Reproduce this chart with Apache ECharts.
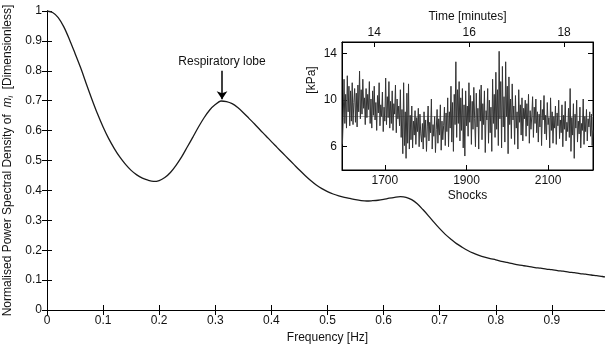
<!DOCTYPE html>
<html><head><meta charset="utf-8">
<script src="https://cdn.jsdelivr.net/npm/echarts@6/dist/echarts.min.js"></script>
<style>html,body{margin:0;padding:0;background:#fff}#c{width:605px;height:344px}</style>
</head><body><div id="c"></div>
<script>
// Main PSD curve (frequency in Hz, normalised PSD), sampled every 0.01 Hz
const freq = [0,0.01,0.02,0.03,0.04,0.05,0.06,0.07,0.08,0.09,0.10,0.11,0.12,0.13,0.14,0.15,0.16,0.17,0.18,0.19,0.20,0.21,0.22,0.23,0.24,0.25,0.26,0.27,0.28,0.29,0.30,0.31,0.32,0.33,0.34,0.35,0.36,0.37,0.38,0.39,0.40,0.41,0.42,0.43,0.44,0.45,0.46,0.47,0.48,0.49,0.50,0.51,0.52,0.53,0.54,0.55,0.56,0.57,0.58,0.59,0.60,0.61,0.62,0.63,0.64,0.65,0.66,0.67,0.68,0.69,0.70,0.71,0.72,0.73,0.74,0.75,0.76,0.77,0.78,0.79,0.80,0.81,0.82,0.83,0.84,0.85,0.86,0.87,0.88,0.89,0.90,0.91,0.92,0.93,0.94,0.95,0.96,0.97,0.98,0.99,1.0];
const psd  = [1.0,0.995,0.978,0.947,0.905,0.858,0.81,0.757,0.705,0.656,0.612,0.573,0.54,0.511,0.487,0.467,0.452,0.441,0.434,0.430,0.433,0.443,0.46,0.484,0.512,0.545,0.578,0.612,0.643,0.669,0.687,0.699,0.697,0.69,0.677,0.66,0.641,0.622,0.602,0.583,0.563,0.544,0.525,0.506,0.487,0.468,0.45,0.433,0.418,0.406,0.396,0.388,0.382,0.377,0.373,0.369,0.366,0.3645,0.3655,0.367,0.37,0.374,0.377,0.379,0.377,0.369,0.355,0.336,0.315,0.293,0.272,0.253,0.237,0.222,0.21,0.199,0.19,0.183,0.177,0.172,0.168,0.163,0.159,0.155,0.151,0.148,0.145,0.142,0.14,0.137,0.135,0.132,0.13,0.127,0.125,0.122,0.12,0.117,0.115,0.112,0.11];
const peakFreq = 0.312, peakVal = 0.705, arrowTop = 0.80;
const annotation = 'Respiratory lobe';

// Inset: pressure per shock
const shockStart = 1596, shockStep = 2;
const pressure = [
6.2,8.5,11.8,8.0,10.5,7.6,12.1,9.0,11.2,7.8,
10.8,8.2,11.5,7.9,9.8,11.0,8.1,10.6,7.7,11.3,
9.0,12.5,8.4,10.9,8.8,11.8,9.3,10.2,7.9,11.0,
8.5,10.5,9.2,11.6,8.0,10.1,7.6,10.8,8.7,11.2,
8.3,9.8,7.4,10.4,8.9,11.5,7.8,9.6,8.6,10.7,
7.3,9.4,8.2,11.9,7.9,10.3,8.5,11.6,7.6,9.9,
8.0,10.8,7.4,9.7,8.8,11.3,7.2,10.1,8.4,9.5,
7.8,10.9,6.8,9.2,5.4,11.5,6.1,9.0,5.0,10.6,
6.3,11.4,5.8,8.7,6.6,9.5,5.9,8.2,7.0,9.1,
6.2,8.5,7.3,9.3,6.0,8.8,7.1,6.4,8.0,5.8,
9.0,6.8,8.3,5.6,7.7,9.5,6.5,8.1,7.2,10.1,
5.8,7.9,6.9,8.6,5.5,7.5,9.2,6.3,8.4,7.0,
9.6,5.7,8.2,6.6,7.8,9.4,6.1,8.9,7.3,10.2,
6.0,9.0,7.6,11.2,6.4,9.8,5.6,10.5,7.9,13.3,
6.8,10.9,8.0,11.6,6.5,10.2,7.4,11.0,5.9,9.6,
5.2,10.8,7.8,9.5,6.9,11.5,8.1,10.4,6.2,9.9,
7.5,11.1,8.4,6.0,10.6,7.7,9.3,5.8,10.9,8.2,
11.3,6.6,9.7,7.9,10.8,5.5,9.1,8.3,11.0,6.3,
10.0,7.2,9.4,5.6,11.8,8.0,10.5,6.8,12.4,7.5,
10.9,6.1,14.2,8.4,11.6,5.9,12.9,7.7,10.3,6.4,
13.3,8.6,11.2,5.4,12.0,7.9,10.1,6.7,11.4,8.3,
9.5,6.2,10.4,7.6,9.0,5.8,10.9,8.1,9.6,7.0,
10.2,6.5,9.3,8.4,10.0,6.9,9.7,7.8,10.5,6.3,
9.1,7.5,8.6,10.3,6.8,9.4,8.0,10.1,7.2,9.0,
6.4,8.8,7.7,10.0,6.1,9.2,8.3,10.4,7.1,8.7,
6.6,9.8,7.9,8.5,5.9,10.2,7.4,9.0,6.3,8.6,
7.6,9.5,6.2,8.9,7.8,10.0,6.7,8.3,7.2,9.6,
6.0,8.7,7.5,9.9,6.5,8.1,7.3,9.3,6.8,11.0,
5.6,8.5,7.0,9.7,5.0,8.8,7.6,10.0,6.4,8.2,
7.1,9.4,5.9,8.0,7.4,10.1,6.2,8.6,7.3,9.2,
6.5,8.4,7.7,9.0,6.9,8.8,6.1,7.4];
const meanPressure = 8.65;
const insetShockRange = [1595, 2210];
const insetTimeRange = [13.32, 18.61];
const insetYRange = [4, 15];
const shockTicks = [1700, 1900, 2100];
const timeTicks = [14, 16, 18];
const kpaTicks = [6, 10, 14];

const FONT = 'Liberation Sans, Arial, sans-serif';
const chart = echarts.init(document.getElementById('c'), null, {renderer: 'canvas'});
const mainData = freq.map((f, i) => [f, psd[i]]);
const insetData = pressure.map((p, i) => [shockStart + i * shockStep, p]);

const tickIn = {show: true, inside: true, length: 5, lineStyle: {color: '#000'}};
const lineBlk = {show: true, lineStyle: {color: '#000', width: 1}};
const lbl = {color: '#111', fontSize: 12, fontFamily: FONT};
const plain = v => String(v);

chart.setOption({
  animation: false,
  backgroundColor: '#fff',
  grid: [
    {left: 47, top: 11, width: 561, height: 299, show: false, containLabel: false, outerBoundsMode: 'none'},
    {left: 342, top: 42, width: 251, height: 128, show: true, backgroundColor: '#fff', borderColor: '#000', borderWidth: 1, z: 5, containLabel: false, outerBoundsMode: 'none'}
  ],
  xAxis: [
    {gridIndex: 0, type: 'value', min: 0, max: 1, interval: 0.1, axisLine: lineBlk, axisTick: tickIn,
     axisLabel: Object.assign({margin: 5, formatter: plain, showMaxLabel: true}, lbl), splitLine: {show: false},
     name: 'Frequency [Hz]', nameLocation: 'middle', nameGap: 18, nameTextStyle: {color: '#111', fontSize: 12, fontFamily: FONT}},
    {gridIndex: 0, type: 'value', position: 'top', min: 0, max: 1, interval: 0.1, axisLine: lineBlk, axisTick: tickIn,
     axisLabel: {show: false}, splitLine: {show: false}},
    {gridIndex: 1, type: 'value', min: insetShockRange[0], max: insetShockRange[1], axisLine: lineBlk,
     axisTick: Object.assign({customValues: shockTicks}, tickIn),
     axisLabel: Object.assign({customValues: shockTicks, margin: 5, formatter: plain}, lbl), splitLine: {show: false},
     name: 'Shocks', nameLocation: 'middle', nameGap: 20, nameTextStyle: {color: '#111', fontSize: 12, fontFamily: FONT}, z: 6},
    {gridIndex: 1, type: 'value', position: 'top', min: insetTimeRange[0], max: insetTimeRange[1], axisLine: lineBlk,
     axisTick: Object.assign({customValues: timeTicks}, tickIn),
     axisLabel: Object.assign({customValues: timeTicks, margin: 3, formatter: plain}, lbl), splitLine: {show: false},
     name: 'Time [minutes]', nameLocation: 'middle', nameGap: 19, nameTextStyle: {color: '#111', fontSize: 12, fontFamily: FONT}, z: 6}
  ],
  yAxis: [
    {gridIndex: 0, type: 'value', min: 0, max: 1, interval: 0.1, axisLine: lineBlk, axisTick: tickIn,
     axisLabel: Object.assign({margin: 5, formatter: plain}, lbl), splitLine: {show: false},
     name: '{a|Normalised Power Spectral Density of  }{m|m}{s|i}{a|  [Dimensionless]}',
     nameLocation: 'middle', nameGap: 30,
     nameTextStyle: {color: '#111', fontSize: 12, fontFamily: FONT,
       rich: {a: {fontSize: 12, fontFamily: FONT, color: '#111'},
              m: {fontSize: 12, fontFamily: FONT, fontStyle: 'italic', color: '#111'},
              s: {fontSize: 7, fontFamily: FONT, fontStyle: 'italic', color: '#111', padding: [6, 0, 0, 0]}}}},
    {gridIndex: 0, type: 'value', position: 'right', min: 0, max: 1, interval: 0.1, axisLine: lineBlk, axisTick: tickIn,
     axisLabel: {show: false}, splitLine: {show: false}},
    {gridIndex: 1, type: 'value', min: insetYRange[0], max: insetYRange[1], axisLine: lineBlk,
     axisTick: Object.assign({customValues: kpaTicks}, tickIn),
     axisLabel: Object.assign({customValues: kpaTicks, margin: 5, formatter: plain}, lbl), splitLine: {show: false},
     name: '[kPa]', nameLocation: 'middle', nameGap: 24,
     nameTextStyle: {color: '#111', fontSize: 12, fontFamily: FONT, padding: [0, 0, 0, 52]}, z: 6},
    {gridIndex: 1, type: 'value', position: 'right', min: insetYRange[0], max: insetYRange[1], axisLine: lineBlk,
     axisTick: Object.assign({customValues: kpaTicks}, tickIn),
     axisLabel: {show: false}, splitLine: {show: false}, z: 6}
  ],
  series: [
    {type: 'line', xAxisIndex: 0, yAxisIndex: 0, data: mainData, smooth: 0.3, showSymbol: false,
     lineStyle: {color: '#1a1a1a', width: 1.3}, silent: true,
     markLine: {silent: true, symbol: ['none', 'arrow'], symbolSize: 8,
       lineStyle: {color: '#000', width: 1.5, type: 'solid'},
       label: {show: true, position: 'start', formatter: annotation, color: '#111', fontSize: 12, fontFamily: FONT, distance: 3},
       data: [[{coord: [peakFreq, arrowTop]}, {coord: [peakFreq, peakVal]}]]}},
    {type: 'line', xAxisIndex: 2, yAxisIndex: 2, data: insetData, showSymbol: false, z: 7,
     lineStyle: {color: '#333', width: 1}, silent: true,
     markLine: {silent: true, symbol: ['none', 'none'], lineStyle: {color: '#aaa', width: 1, type: 'solid'},
       label: {show: false}, data: [{yAxis: meanPressure}]}}
  ]
});
</script></body></html>
